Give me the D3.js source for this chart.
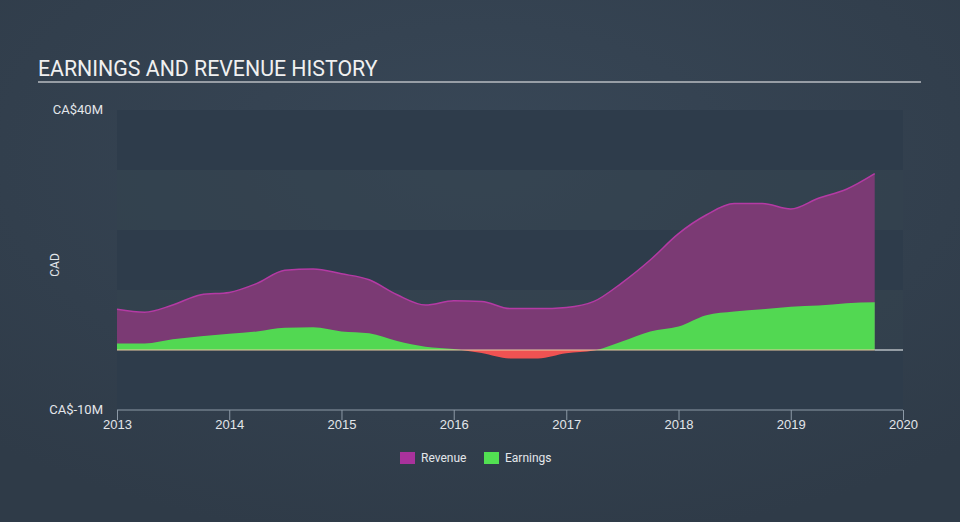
<!DOCTYPE html>
<html><head><meta charset="utf-8">
<script src="https://cdn.jsdelivr.net/npm/d3@7"></script>
<style>
html,body{margin:0;padding:0;background:#344251;}
svg{display:block;font-family:Roboto,"Noto Sans",sans-serif;}
</style></head><body>
<svg id="c" width="960" height="522"></svg>
<script>
const dates = ["2013-01-01","2013-04-01","2013-07-01","2013-10-01","2014-01-01","2014-04-01","2014-07-01","2014-10-01","2015-01-01","2015-04-01","2015-07-01","2015-10-01","2016-01-01","2016-04-01","2016-07-01","2016-10-01","2017-01-01","2017-04-01","2017-07-01","2017-10-01","2018-01-01","2018-04-01","2018-07-01","2018-10-01","2019-01-01","2019-04-01","2019-07-01","2019-10-01"];
const revenue = [6.8,6.3,7.5,9.2,9.6,11.1,13.3,13.5,12.7,11.7,9.2,7.5,8.2,8.1,6.9,6.9,7.1,8.1,11.2,15.0,19.4,22.5,24.4,24.4,23.5,25.3,26.8,29.4];
const earnings = [1.1,1.1,1.8,2.3,2.7,3.1,3.7,3.8,3.1,2.8,1.5,0.55,0.15,-0.5,-1.4,-1.4,-0.55,-0.1,1.4,3.1,3.9,5.8,6.4,6.8,7.2,7.4,7.8,7.95];
const yTicks = [40,-10];
const xTickYears = [2013,2014,2015,2016,2017,2018,2019,2020];
const seriesNames = ["Revenue","Earnings"];

const svg = d3.select("#c");
const W = 960, H = 522;
const defs = svg.append("defs");
const bg = defs.append("radialGradient").attr("id","bg").attr("cx","50%").attr("cy","30%").attr("r","75%");
bg.append("stop").attr("offset","0%").attr("stop-color","#384757");
bg.append("stop").attr("offset","100%").attr("stop-color","#2f3b48");
svg.append("rect").attr("width",W).attr("height",H).attr("fill","url(#bg)");

const parse = d3.timeParse("%Y-%m-%d");
const data = dates.map((d,i)=>({date:parse(d),rev:revenue[i],earn:earnings[i]}));

const x = d3.scaleTime().domain([new Date(2013,0,1), new Date(2020,0,1)]).range([117,903]);
const y = d3.scaleLinear().domain([-10,40]).range([410,110]);

// bands
const bandEdges = d3.range(-10,40,10);
svg.append("g").selectAll("rect").data(bandEdges).join("rect")
  .attr("x",117).attr("width",903-117)
  .attr("y",d=>y(d+10)).attr("height",d=>y(d)-y(d+10))
  .attr("fill",(d,i)=> i%2===0 ? "#2e3c4b" : "#34424f")
  .attr("opacity",(d,i)=> i%2===0 ? 1 : 0.6);

// title
svg.append("text").attr("x",38).attr("y",76).text("EARNINGS AND REVENUE HISTORY")
  .attr("fill","#f0f0f0").attr("font-size",21.3).attr("font-weight",400);
svg.append("line").attr("x1",38).attr("x2",921).attr("y1",82).attr("y2",82)
  .attr("stroke","#b8bcc2").attr("stroke-width",1.5);

const curve = d3.curveMonotoneX;
// revenue
svg.append("path").datum(data)
  .attr("d", d3.area().x(d=>x(d.date)).y0(y(0)).y1(d=>y(d.rev)).curve(curve))
  .attr("fill","#7b3a74");
svg.append("path").datum(data)
  .attr("d", d3.line().x(d=>x(d.date)).y(d=>y(d.rev)).curve(curve))
  .attr("fill","none").attr("stroke","#b43aa4").attr("stroke-width",1.5);

// earnings with clip for positive/negative
defs.append("clipPath").attr("id","pos").append("rect").attr("x",0).attr("y",0).attr("width",W).attr("height",y(0));
defs.append("clipPath").attr("id","neg").append("rect").attr("x",0).attr("y",y(0)).attr("width",W).attr("height",H);
const earnArea = d3.area().x(d=>x(d.date)).y0(y(0)).y1(d=>y(d.earn)).curve(curve);
svg.append("path").datum(data).attr("d",earnArea).attr("fill","#52d852").attr("clip-path","url(#pos)");
svg.append("path").datum(data).attr("d",earnArea).attr("fill","#f05252").attr("clip-path","url(#neg)");

// zero line
svg.append("line").attr("x1",117).attr("x2",x(data[data.length-1].date)).attr("y1",y(0)).attr("y2",y(0))
  .attr("stroke","#e8c9a0").attr("stroke-width",1.2);
svg.append("line").attr("x1",x(data[data.length-1].date)).attr("x2",903).attr("y1",y(0)).attr("y2",y(0))
  .attr("stroke","#d8dce0").attr("stroke-width",1.2);

// x axis
const xAxis = d3.axisBottom(x).tickValues(xTickYears.map(yr=>new Date(yr,0,1))).tickFormat(d3.timeFormat("%Y")).tickSize(6).tickSizeOuter(0);
const gx = svg.append("g").attr("transform","translate(0,410)").call(xAxis);
gx.select(".domain").attr("stroke","#8c99a6").attr("d","M117,0H903");
gx.selectAll(".tick line").attr("stroke","#8c99a6").attr("y1",0).attr("y2",10);
gx.selectAll(".tick text").attr("fill","#e3e6ea").attr("font-size",13).attr("y",10).attr("dy","0.71em");

// y labels
svg.selectAll(".ylab").data(yTicks).join("text").attr("class","ylab")
  .attr("x",103).attr("y",d=>y(d)+4).attr("text-anchor","end")
  .attr("fill","#e3e6ea").attr("font-size",13).text(d=>`CA$${d}M`);
svg.append("text").attr("transform","translate(59,265) rotate(-90)").attr("text-anchor","middle")
  .attr("fill","#e3e6ea").attr("font-size",12).text("CAD");

// legend
const legColors = ["#a9329c","#52e052"];
const legX = [400,484];
const lg = svg.append("g");
seriesNames.forEach((n,i)=>{
  lg.append("rect").attr("x",legX[i]).attr("y",452).attr("width",15).attr("height",12).attr("fill",legColors[i]);
  lg.append("text").attr("x",legX[i]+21).attr("y",462).attr("fill","#e3e6ea").attr("font-size",12).text(n);
});
</script>
</body></html>
